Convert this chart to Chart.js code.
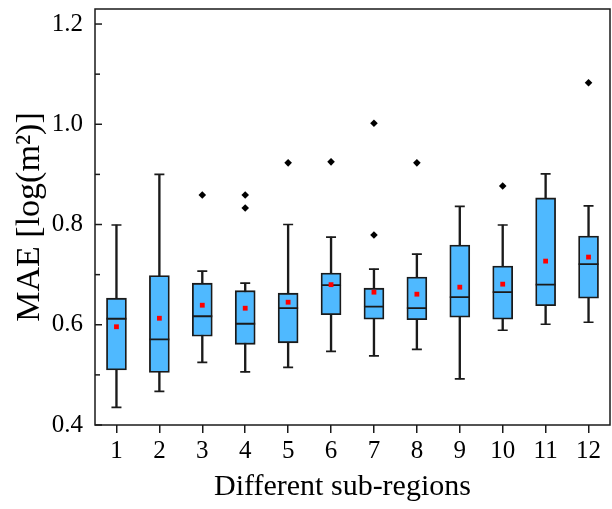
<!DOCTYPE html>
<html>
<head>
<meta charset="utf-8">
<script src="https://cdn.jsdelivr.net/npm/chart.js@4"></script>
<style>
    body {
        margin: 0;
        background: #ffffff;
    }

    #wrap {
        width: 612px;
        height: 509px;
    }
</style>
</head>
<body>

<div id="wrap">
    <canvas id="boxChart" width="612" height="509"></canvas>
</div>

<script>

const regionLabels =
    ["1", "2", "3", "4", "5", "6", "7", "8", "9", "10", "11", "12"];

const whiskerLow =
    [0.435, 0.467, 0.525, 0.506, 0.515, 0.547, 0.538, 0.551, 0.492, 0.589, 0.601, 0.605];

const quartile1 =
    [0.510, 0.505, 0.577, 0.561, 0.564, 0.620, 0.611, 0.610, 0.615, 0.611, 0.638, 0.653];

const medians =
    [0.612, 0.571, 0.617, 0.602, 0.633, 0.679, 0.636, 0.633, 0.655, 0.665, 0.680, 0.721];

const quartile3 =
    [0.653, 0.698, 0.683, 0.668, 0.663, 0.703, 0.673, 0.695, 0.759, 0.717, 0.853, 0.777];

const whiskerHigh =
    [0.799, 0.900, 0.707, 0.683, 0.800, 0.775, 0.711, 0.741, 0.836, 0.799, 0.901, 0.837];

const means =
    [0.596, 0.613, 0.639, 0.633, 0.645, 0.680, 0.665, 0.661, 0.675, 0.681, 0.727, 0.735];

const outlierRegions =
    ["3", "4", "4", "5", "6", "7", "7", "8", "10", "12"];

const outlierValues =
    [0.859, 0.859, 0.833, 0.923, 0.925, 1.002, 0.779, 0.923, 0.877, 1.083];

const yTickValues =
    [0.4, 0.5, 0.6, 0.7, 0.8, 0.9, 1.0, 1.1, 1.2];

const yLabelValues =
    [0.4, 0.6, 0.8, 1.0, 1.2];

const xTitle = "Different sub-regions";

const serif = "'Liberation Serif', 'Times New Roman', serif";
const ink = "#1a1a1a";


// full frame round the plot, inward y ticks and the x title
const framePlugin = {

    id: "frame",

    afterDraw(chart) {

        const ctx = chart.ctx;
        const area = chart.chartArea;
        const yScale = chart.scales.y;

        ctx.save();
        ctx.strokeStyle = ink;
        ctx.lineWidth = 1.5;

        ctx.strokeRect(
            area.left,
            area.top,
            area.right - area.left,
            area.bottom - area.top
        );

        yTickValues.forEach(v => {

            let py = yScale.getPixelForValue(v);
            let len = yLabelValues.some(l => Math.abs(l - v) < 1e-6) ? 7 : 5;

            ctx.beginPath();
            ctx.moveTo(area.left, py);
            ctx.lineTo(area.left + len, py);
            ctx.stroke();

        });

        // the source puts this title a little left of centre
        ctx.fillStyle = "#000000";
        ctx.font = "30px " + serif;
        ctx.textAlign = "center";
        ctx.textBaseline = "middle";
        ctx.fillText(
            xTitle,
            (area.left + area.right) / 2 - 10,
            chart.height - 22
        );

        ctx.restore();

    }

};


function createBoxChart() {

    const chartCanvas =
        document.getElementById("boxChart");

    let boxData =
        regionLabels.map((r, i) => [quartile1[i], quartile3[i]]);

    let whiskerData =
        regionLabels.map((r, i) => [whiskerLow[i], whiskerHigh[i]]);

    let outlierData =
        outlierRegions.map((r, i) => ({ x: r, y: outlierValues[i] }));

    new Chart(chartCanvas, {

        type: "bar",

        data: {

            labels: regionLabels,

            datasets: [

                {
                    type: "bar",
                    data: whiskerData,
                    grouped: false,
                    barThickness: 1.7,
                    backgroundColor: ink,
                    borderWidth: 0,
                    order: 5
                },

                {
                    type: "bar",
                    data: boxData,
                    grouped: false,
                    barThickness: 20,
                    backgroundColor: "#4FB9FF",
                    borderColor: ink,
                    borderWidth: 1.8,
                    borderSkipped: false,
                    order: 4
                },

                {
                    type: "line",
                    data: medians,
                    showLine: false,
                    pointStyle: "line",
                    pointRadius: 10,
                    pointBorderWidth: 1.8,
                    pointBorderColor: ink,
                    order: 3
                },

                {
                    type: "line",
                    data: whiskerHigh,
                    showLine: false,
                    pointStyle: "line",
                    pointRadius: 5,
                    pointBorderWidth: 1.7,
                    pointBorderColor: ink,
                    order: 3
                },

                {
                    type: "line",
                    data: whiskerLow,
                    showLine: false,
                    pointStyle: "line",
                    pointRadius: 5,
                    pointBorderWidth: 1.7,
                    pointBorderColor: ink,
                    order: 3
                },

                {
                    type: "line",
                    data: means,
                    showLine: false,
                    pointStyle: "rect",
                    pointRadius: 3.4,
                    pointBorderWidth: 0,
                    pointBackgroundColor: "#FF0000",
                    order: 1
                },

                {
                    type: "line",
                    data: outlierData,
                    showLine: false,
                    pointStyle: "rectRot",
                    pointRadius: 3.8,
                    pointBorderWidth: 0,
                    pointBackgroundColor: "#000000",
                    order: 1
                }

            ]

        },

        options: {

            responsive: false,
            animation: false,

            layout: {
                autoPadding: false,
                padding: {
                    top: 9,
                    right: 2,
                    left: 0,
                    bottom: 0
                }
            },

            plugins: {
                legend: { display: false },
                tooltip: { enabled: false }
            },

            scales: {

                x: {
                    offset: true,
                    grid: {
                        offset: false,
                        drawOnChartArea: false,
                        drawTicks: true,
                        tickLength: 8,
                        color: ink,
                        lineWidth: 1.5
                    },
                    border: { display: false },
                    ticks: {
                        color: "#000000",
                        padding: 3,
                        maxRotation: 0,
                        autoSkip: false,
                        font: { family: serif, size: 25 }
                    },
                    title: { display: false },
                    afterFit(scale) {
                        scale.height = 84;
                        scale.paddingLeft = 0;
                        scale.paddingRight = 0;
                    }
                },

                y: {
                    min: 0.4,
                    max: 1.23,
                    grid: { display: false, drawTicks: false },
                    border: { display: false },
                    ticks: {
                        stepSize: 0.1,
                        includeBounds: false,
                        autoSkip: false,
                        padding: 12,
                        color: "#000000",
                        font: { family: serif, size: 25 },
                        callback: function(value) {
                            let show = yLabelValues.some(l => Math.abs(l - value) < 1e-6);
                            return show ? value.toFixed(1) : "";
                        }
                    },
                    title: {
                        display: true,
                        text: "MAE [log(m²)]",
                        color: "#000000",
                        padding: { top: 10, bottom: 0 },
                        font: { family: serif, size: 34 }
                    },
                    afterFit(scale) {
                        scale.width = 95;
                        scale.paddingTop = 0;
                        scale.paddingBottom = 0;
                    }
                }

            }

        },

        plugins: [framePlugin]

    });

}

window.onload = function() {

    createBoxChart();

}

</script>
</body>
</html>
